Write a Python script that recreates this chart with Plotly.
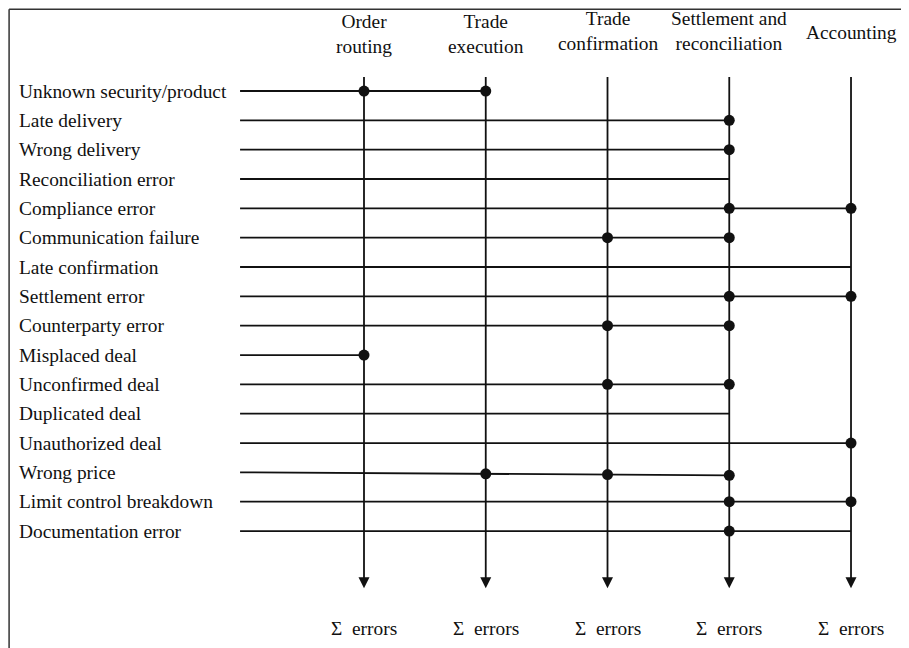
import plotly.graph_objects as go

# process stages (columns) and error types (rows)
stages = ["Order<br>routing", "Trade<br>execution", "Trade<br>confirmation",
          "Settlement and<br>reconciliation", "Accounting"]
stage_label_y = [-1.94, -1.94, -2.03, -2.03, -1.98]

errors = ["Unknown security/product", "Late delivery", "Wrong delivery",
          "Reconciliation error", "Compliance error", "Communication failure",
          "Late confirmation", "Settlement error", "Counterparty error",
          "Misplaced deal", "Unconfirmed deal", "Duplicated deal",
          "Unauthorized deal", "Wrong price", "Limit control breakdown",
          "Documentation error"]

# last stage each error line runs to, and stages where the error occurs
line_end = [1, 3, 3, 3, 4, 3, 4, 4, 3, 0, 3, 3, 4, 3, 4, 4]
hits = [[0, 1], [3], [3], [], [3, 4], [2, 3], [], [3, 4], [2, 3], [0],
        [2, 3], [], [4], [1, 2, 3], [3, 4], [3]]
# slight downward drift of the printed "Wrong price" line
drift = [0, 0, 0, 0, 0, 0, 0, 0, 0, 0, 0, 0, 0, 0.1, 0, 0]

sum_label = "\u03a3\u00a0 errors"

line_start = -1.018
label_x = -2.85
col_top = -0.48
col_bottom = 16.7
arrow_tip = 16.95
sum_y = 18.31

font = dict(family="Liberation Serif, Times New Roman, serif", size=19.4, color="#111")
ink = "#111111"

fig = go.Figure()

# vertical stage lines
vx, vy = [], []
for c in range(len(stages)):
    vx += [c, c, None]
    vy += [col_top, col_bottom, None]
fig.add_trace(go.Scatter(x=vx, y=vy, mode="lines", line=dict(color=ink, width=1.8),
                         hoverinfo="skip", showlegend=False))

# arrow heads (marker tip sits on the point)
fig.add_trace(go.Scatter(x=list(range(len(stages))), y=[arrow_tip] * len(stages),
                         mode="markers", marker=dict(symbol="arrow-down", size=11, color=ink,
                                                     line=dict(width=0)),
                         hoverinfo="skip", showlegend=False))

# horizontal error lines
hx, hy = [], []
for r, end in enumerate(line_end):
    hx += [line_start, end, None]
    hy += [r, r + drift[r], None]
fig.add_trace(go.Scatter(x=hx, y=hy, mode="lines", line=dict(color=ink, width=1.8),
                         hoverinfo="skip", showlegend=False))

# dots where an error occurs at a stage
dx, dy = [], []
for r, cols in enumerate(hits):
    end = line_end[r]
    for c in cols:
        dx.append(c)
        dy.append(r + drift[r] * (c - line_start) / (end - line_start))
fig.add_trace(go.Scatter(x=dx, y=dy, mode="markers",
                         marker=dict(size=11, color=ink), hoverinfo="skip", showlegend=False))

# row labels
for r, name in enumerate(errors):
    fig.add_annotation(x=label_x, y=r, text=name, showarrow=False,
                       xanchor="left", yanchor="middle", font=font)

# stage headers and sum labels
for c, name in enumerate(stages):
    fig.add_annotation(x=c, y=stage_label_y[c], text=name, showarrow=False,
                       xanchor="center", yanchor="middle", font=font)
    fig.add_annotation(x=c, y=sum_y, text=sum_label, showarrow=False,
                       xanchor="center", yanchor="middle", font=font)

# frame (left and top edges)
fig.add_shape(type="line", xref="paper", yref="paper", x0=0.0012, x1=0.0012, y0=0, y1=0.998,
              line=dict(color="#333", width=1.5))
fig.add_shape(type="line", xref="paper", yref="paper", x0=0.0012, x1=1, y0=0.998, y1=0.998,
              line=dict(color="#333", width=1.5))

# the page puts the figure 8px in from the window corner, so the ranges are shifted
fig.update_xaxes(range=[-2.924, 4.542], visible=False, fixedrange=True)
fig.update_yaxes(range=[19.26, -2.83], visible=False, fixedrange=True)
fig.update_layout(width=909, height=648, margin=dict(l=0, r=0, t=0, b=0),
                  plot_bgcolor="white", paper_bgcolor="white")

fig.write_html("out.html")
